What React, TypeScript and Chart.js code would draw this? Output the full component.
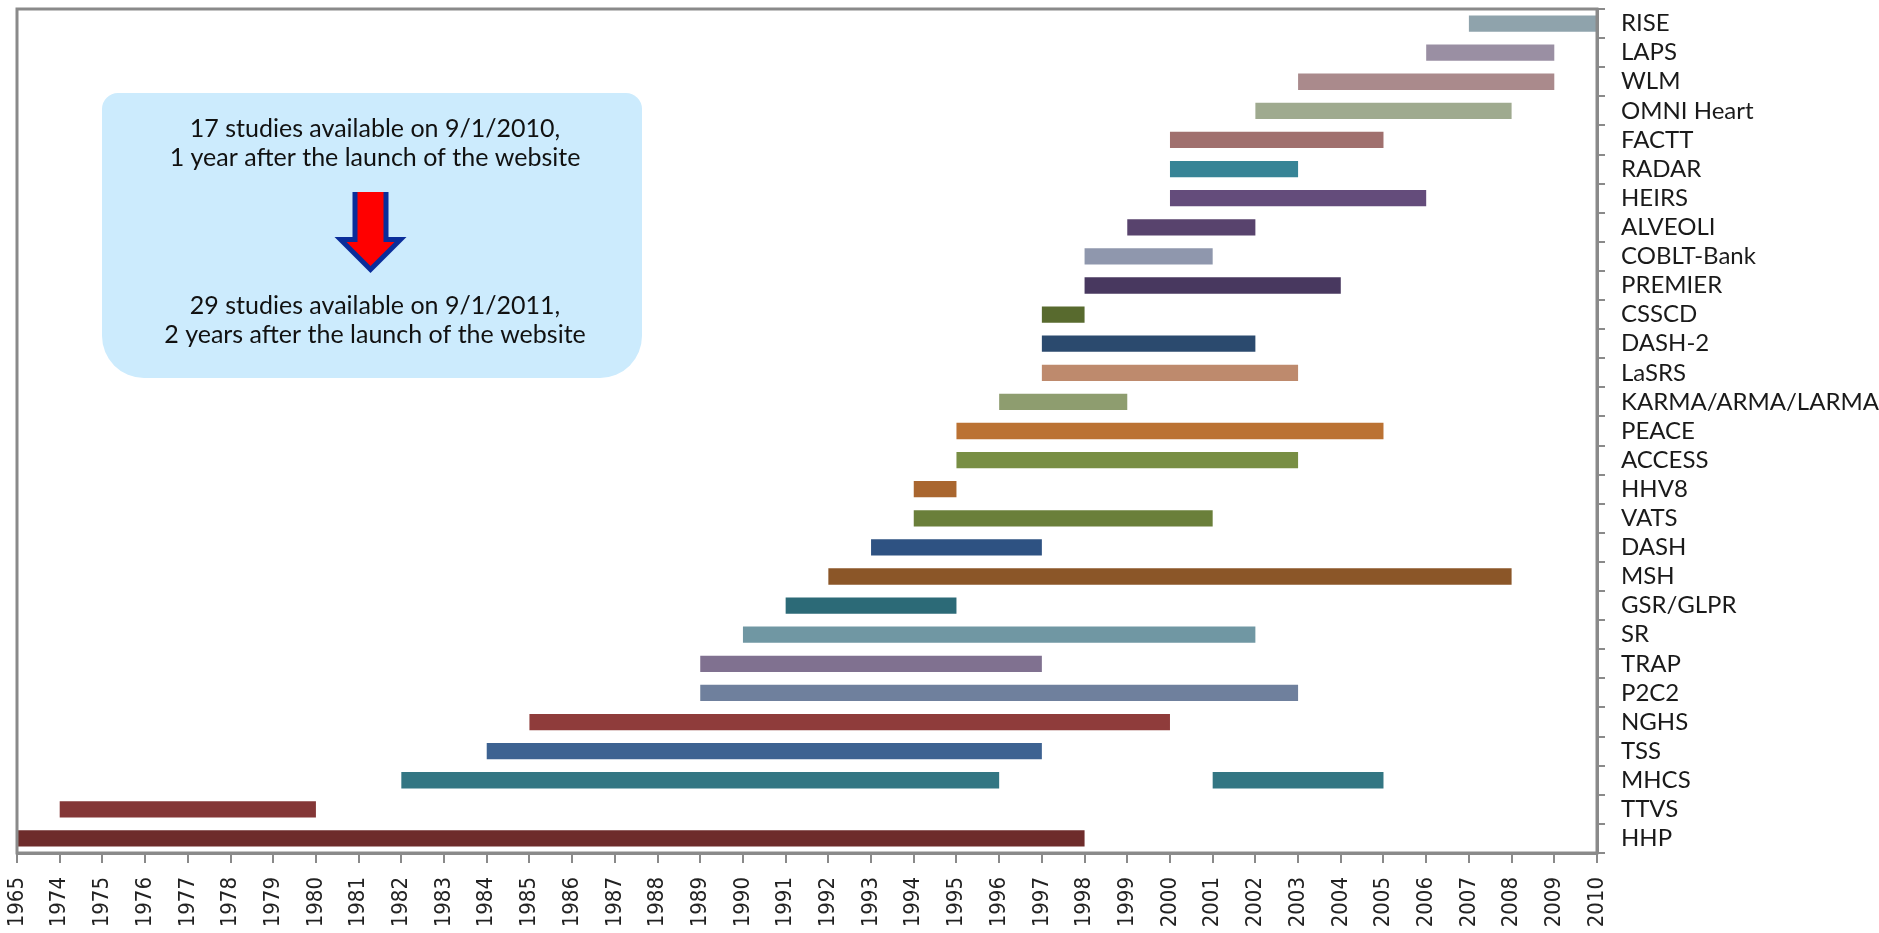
import React, { useEffect, useRef } from "react";
import { Chart, registerables } from "chart.js";

Chart.register(...registerables);

const studies = [
  "RISE", "LAPS", "WLM", "OMNI Heart", "FACTT", "RADAR", "HEIRS", "ALVEOLI",
  "COBLT-Bank", "PREMIER", "CSSCD", "DASH-2", "LaSRS", "KARMA/ARMA/LARMA",
  "PEACE", "ACCESS", "HHV8", "VATS", "DASH", "MSH", "GSR/GLPR", "SR", "TRAP",
  "P2C2", "NGHS", "TSS", "MHCS", "TTVS", "HHP",
];

const startYears = [
  2007, 2006, 2003, 2002, 2000, 2000, 2000, 1999,
  1998, 1998, 1997, 1997, 1997, 1996,
  1995, 1995, 1994, 1994, 1993, 1992, 1991, 1990, 1989,
  1989, 1985, 1984, 1982, 1974, 1965,
];

const endYears = [
  2010, 2009, 2009, 2008, 2005, 2003, 2006, 2002,
  2001, 2004, 1998, 2002, 2003, 1999,
  2005, 2003, 1995, 2001, 1997, 2008, 1995, 2002, 1997,
  2003, 2000, 1997, 1996, 1980, 1998,
];

// second period of the MHCS study
const extraStudy = "MHCS";
const extraStart = 2001;
const extraEnd = 2005;

const barColors = [
  "#8FA3AC", "#9A8FA3", "#AA8A8C", "#9FAA8F", "#A0706E", "#378496", "#644C7B", "#58436D",
  "#8F97AD", "#48385F", "#586A2E", "#2B4A6E", "#BE8A6D", "#8E9D6F",
  "#BB7233", "#788E44", "#A9662F", "#6A7F3A", "#2E5282", "#8B5628", "#2C6A77", "#7097A3", "#807190",
  "#6F809D", "#8F3C3B", "#3D6291", "#337683", "#843737", "#6E2C2B",
];

const xTickLabels = [
  "1965", "1974", "1975", "1976", "1977", "1978", "1979", "1980", "1981", "1982",
  "1983", "1984", "1985", "1986", "1987", "1988", "1989", "1990", "1991", "1992",
  "1993", "1994", "1995", "1996", "1997", "1998", "1999", "2000", "2001", "2002",
  "2003", "2004", "2005", "2006", "2007", "2008", "2009", "2010",
];

const noteTop = ["17 studies available on 9/1/2010,", "1 year after the launch of the website"];
const noteBottom = ["29 studies available on 9/1/2011,", "2 years after the launch of the website"];

const yearPos = (y: number) => xTickLabels.indexOf(String(y));

const GRAY = "#8a8a8a";

const framePlugin = {
  id: "frame",
  afterDraw(chart: any) {
    const { ctx, chartArea } = chart;
    ctx.save();
    ctx.strokeStyle = GRAY;
    ctx.lineWidth = 3;
    ctx.strokeRect(chartArea.left, chartArea.top, chartArea.right - chartArea.left, chartArea.bottom - chartArea.top);

    // annotation box
    const bx = 102, by = 93, bw = 540, bh = 285;
    ctx.fillStyle = "#CCEBFD";
    ctx.beginPath();
    (ctx as any).roundRect(bx, by, bw, bh, [16, 16, 42, 42]);
    ctx.fill();

    ctx.fillStyle = "#111";
    ctx.font = "25px Lato, 'Open Sans', sans-serif";
    ctx.textAlign = "center";
    ctx.textBaseline = "middle";
    const cx = bx + bw / 2 + 3;
    ctx.fillText(noteTop[0], cx, 129);
    ctx.fillText(noteTop[1], cx, 158);
    ctx.fillText(noteBottom[0], cx, 306);
    ctx.fillText(noteBottom[1], cx, 335);

    // arrow
    const ax = 370.5;
    ctx.fillStyle = "#0A2D9A";
    ctx.beginPath();
    ctx.moveTo(ax - 18, 192);
    ctx.lineTo(ax + 18, 192);
    ctx.lineTo(ax + 18, 237);
    ctx.lineTo(ax + 36, 237);
    ctx.lineTo(ax, 273);
    ctx.lineTo(ax - 36, 237);
    ctx.lineTo(ax - 18, 237);
    ctx.closePath();
    ctx.fill();
    ctx.fillStyle = "#FF0000";
    ctx.beginPath();
    ctx.moveTo(ax - 13, 192);
    ctx.lineTo(ax + 13, 192);
    ctx.lineTo(ax + 13, 242);
    ctx.lineTo(ax + 24, 242);
    ctx.lineTo(ax, 266);
    ctx.lineTo(ax - 24, 242);
    ctx.lineTo(ax - 13, 242);
    ctx.closePath();
    ctx.fill();
    ctx.restore();
  },
};

export default function App() {
  const ref = useRef<HTMLCanvasElement>(null);

  useEffect(() => {
    document.body.style.margin = "0";
    const canvas = ref.current;
    if (!canvas) return;

    const mainData = studies.map((_, i) => [yearPos(startYears[i]), yearPos(endYears[i])]);
    const extraData = studies.map((s) => (s === extraStudy ? [yearPos(extraStart), yearPos(extraEnd)] : null));

    const chart = new Chart(canvas, {
      type: "bar",
      data: {
        labels: studies,
        datasets: [
          {
            data: mainData as any,
            backgroundColor: barColors,
            barPercentage: 0.56,
            categoryPercentage: 1,
            grouped: false,
          } as any,
          {
            data: extraData as any,
            backgroundColor: barColors,
            barPercentage: 0.56,
            categoryPercentage: 1,
            grouped: false,
          } as any,
        ],
      },
      plugins: [framePlugin],
      options: {
        indexAxis: "y",
        animation: false,
        responsive: false,
        devicePixelRatio: 1,
        layout: { padding: { left: 17, top: 9, right: 0, bottom: 0 } },
        plugins: { legend: { display: false }, tooltip: { enabled: false } },
        scales: {
          x: {
            type: "linear",
            position: "bottom",
            min: 0,
            max: xTickLabels.length - 1,
            afterFit: (s: any) => {
              s.height = 80;
              s.paddingLeft = 0;
              s.paddingRight = 0;
              s.paddingTop = 0;
              s.paddingBottom = 0;
            },
            ticks: {
              stepSize: 1,
              autoSkip: false,
              maxRotation: 90,
              minRotation: 90,
              padding: 14,
              color: "#222",
              font: { family: "'DejaVu Sans Condensed', 'DejaVu Sans'", size: 22 },
              callback: (v: any) => xTickLabels[v as number],
            },
            grid: { drawOnChartArea: false, tickLength: 10, color: GRAY, lineWidth: 2 },
            border: { color: GRAY, width: 3 },
          },
          y: {
            type: "category",
            position: "right",
            afterFit: (s: any) => {
              s.width = 282;
              s.paddingLeft = 0;
              s.paddingRight = 0;
              s.paddingTop = 0;
              s.paddingBottom = 0;
            },
            ticks: {
              autoSkip: false,
              padding: 16,
              color: "#1a1a1a",
              font: { family: "Lato, 'Open Sans', sans-serif", size: 24 },
            },
            grid: { offset: true, drawOnChartArea: false, tickLength: 8, color: GRAY, lineWidth: 2 },
            border: { color: GRAY, width: 3 },
          },
        },
      },
    } as any);

    return () => chart.destroy();
  }, []);

  return (
    <div style={{ position: "absolute", left: 0, top: 0, width: 1879, height: 933, background: "#fff" }}>
      <canvas ref={ref} width={1879} height={933} />
    </div>
  );
}
